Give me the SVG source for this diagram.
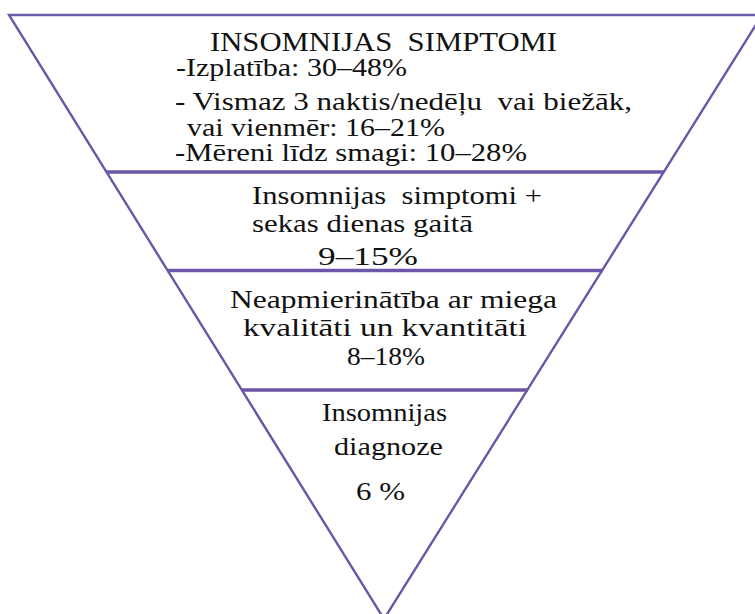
<svg xmlns="http://www.w3.org/2000/svg" width="755" height="614" viewBox="0 0 755 614">
<style>
.edge{fill:none;stroke:#6b57a8;stroke-width:2.4;stroke-linejoin:miter}
.div{stroke:#6b57a8;stroke-width:3.6}
.tx{font-family:'Liberation Serif',Tinos,'Times New Roman',Times,serif;font-size:25px;fill:#111}
.t{font-size:27px}
</style>
<rect width="755" height="614" fill="#ffffff"/>
<g id="outline">
<polygon class="edge" points="9,15 762,15 384,619"/>
</g>
<g id="connectors">
<line class="div" x1="106" y1="172" x2="664" y2="172"/>
<line class="div" x1="167" y1="270.5" x2="603" y2="270.5"/>
<line class="div" x1="242" y1="390" x2="528" y2="390"/>
</g>
<g id="tier1" class="tx">
<text class="t" x="210" y="51" textLength="347" lengthAdjust="spacingAndGlyphs">INSOMNIJAS&#160; SIMPTOMI</text>
<text x="176" y="76" textLength="231" lengthAdjust="spacingAndGlyphs">-Izplatība: 30–48%</text>
<text x="175" y="110" textLength="457" lengthAdjust="spacingAndGlyphs">- Vismaz 3 naktis/nedēļu&#160; vai biežāk,</text>
<text x="187" y="136" textLength="258" lengthAdjust="spacingAndGlyphs">vai vienmēr: 16–21%</text>
<text x="175" y="161" textLength="352" lengthAdjust="spacingAndGlyphs">-Mēreni līdz smagi: 10–28%</text>
</g>
<g id="tier2" class="tx">
<text x="252" y="204" textLength="290" lengthAdjust="spacingAndGlyphs">Insomnijas&#160; simptomi +</text>
<text x="252" y="232" textLength="221" lengthAdjust="spacingAndGlyphs">sekas dienas gaitā</text>
<text x="318" y="265" textLength="100" lengthAdjust="spacingAndGlyphs">9–15%</text>
</g>
<g id="tier3" class="tx">
<text x="230" y="308" textLength="327" lengthAdjust="spacingAndGlyphs">Neapmierinātība ar miega</text>
<text x="243" y="336" textLength="284" lengthAdjust="spacingAndGlyphs">kvalitāti un kvantitāti</text>
<text x="347" y="365" textLength="78" lengthAdjust="spacingAndGlyphs">8–18%</text>
</g>
<g id="tier4" class="tx">
<text x="322" y="421" textLength="125" lengthAdjust="spacingAndGlyphs">Insomnijas</text>
<text x="334" y="455" textLength="109" lengthAdjust="spacingAndGlyphs">diagnoze</text>
<text x="356" y="500" textLength="49" lengthAdjust="spacingAndGlyphs">6 %</text>
</g>
</svg>
